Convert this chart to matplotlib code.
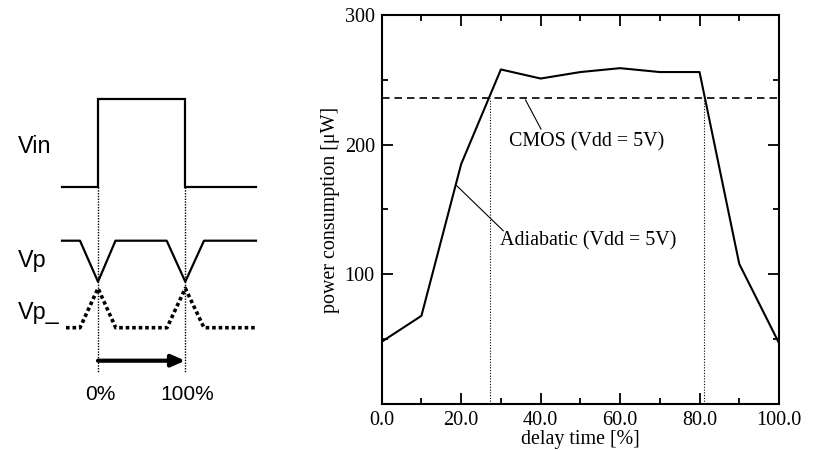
import matplotlib
matplotlib.use("Agg")
import matplotlib.pyplot as plt
from matplotlib.ticker import MultipleLocator, FixedLocator

# ---- data (main chart) ----
delay = [0, 10, 20, 30, 40, 50, 60, 70, 80, 90, 100]
adiabatic = [48, 68, 185, 258, 251, 256, 259, 256, 256, 108, 47]
cmos_level = 236
cross_points = [27.2, 81.0]
x_tick_vals = [0, 20, 40, 60, 80, 100]
x_tick_labels = ["0.0", "20.0", "40.0", "60.0", "80.0", "100.0"]
y_tick_vals = [100, 200, 300]
y_tick_labels = ["100", "200", "300"]

# ---- schematic waveform data (in pixel-like schematic units) ----
vin_x = [62, 98, 98, 185.3, 185.3, 256]
vin_y = [186.7, 186.7, 99, 99, 186.7, 186.7]
vp_x = [62, 80, 98, 115.5, 166.7, 185.3, 204, 256]
vp_y = [240.7, 240.7, 281.7, 240.7, 240.7, 281.7, 240.7, 240.7]
vpn_x = [66, 80, 98, 115.7, 167, 185.3, 204, 256]
vpn_y = [327.7, 327.7, 288.3, 327.7, 327.7, 288.3, 327.7, 327.7]
mark_x = [98, 185.3]
mark_labels = ["0%", "100%"]
wave_labels = ["Vin", "Vp", "Vp_"]
wave_label_y = [153.3, 267.3, 319]

fig = plt.figure(figsize=(8.17, 4.5), dpi=100)

# ---------- left schematic ----------
sch = fig.add_axes([0, 0, 330 / 817, 1])
sch.set_xlim(0, 330)
sch.set_ylim(450, 0)
sch.axis("off")
sans = ["Liberation Sans", "DejaVu Sans"]
sch.plot(vin_x, vin_y, color="black", lw=1.6, solid_joinstyle="miter")
sch.plot(vp_x, vp_y, color="black", lw=1.6)
sch.plot(vpn_x, vpn_y, color="black", lw=2.6, linestyle=(0, (1.0, 0.8)))
for mx in mark_x:
    sch.plot([mx, mx], [186.7, 373], color="black", lw=1.0, linestyle=(0, (1, 1)))
sch.annotate("", xy=(mark_x[1], 360.7), xytext=(mark_x[0], 360.7),
             arrowprops=dict(arrowstyle="-|>,head_length=0.8,head_width=0.35",
                             color="black", lw=3.0, shrinkA=0, shrinkB=0))
for mx, lab in zip(mark_x, mark_labels):
    sch.text(mx + 2, 400, lab, ha="center", va="baseline", fontsize=15, family=sans)
for lab, ly in zip(wave_labels, wave_label_y):
    sch.text(18, ly, lab, ha="left", va="baseline", fontsize=16.8, family=sans)

# ---------- main chart ----------
serif = ["Liberation Serif", "DejaVu Serif"]
ax = fig.add_axes([381.7 / 817, (450 - 404) / 450, (779 - 381.7) / 817, (404 - 15) / 450])
ax.plot(delay, adiabatic, color="black", lw=1.5)
ax.axhline(cmos_level, color="black", lw=1.2, linestyle=(0, (4.5, 3)))
for cx in cross_points:
    ax.plot([cx, cx], [0, cmos_level], color="black", lw=0.8, linestyle=(0, (1, 1.5)))

ax.set_xlim(0, 100)
ax.set_ylim(0, 300)
ax.xaxis.set_major_locator(FixedLocator(x_tick_vals))
ax.set_xticklabels(x_tick_labels)
ax.xaxis.set_minor_locator(MultipleLocator(10))
ax.yaxis.set_major_locator(FixedLocator(y_tick_vals))
ax.set_yticklabels(y_tick_labels)
ax.yaxis.set_minor_locator(MultipleLocator(50))
ax.tick_params(which="both", direction="in", top=True, right=True, width=1.3, colors="black")
ax.tick_params(which="major", length=8, labelsize=14.5, pad=5)
ax.tick_params(which="minor", length=4.5)
for lbl in ax.get_xticklabels() + ax.get_yticklabels():
    lbl.set_family(serif)
for sp in ax.spines.values():
    sp.set_linewidth(1.5)

ax.set_xlabel("delay time [%]", fontsize=14.4, family=serif, labelpad=0)
ax.set_ylabel("power consumption [\u03bcW]", fontsize=14.4, family=serif, labelpad=3)

# leader lines and labels
ax.plot([36.2, 40.1], [234.5, 212], color="black", lw=0.8)
ax.text(51.5, 202, "CMOS (Vdd = 5V)", fontsize=14.4, family=serif, ha="center", va="center")
ax.plot([18.9, 30.6], [168.3, 133.6], color="black", lw=0.8)
ax.text(52.0, 126, "Adiabatic (Vdd = 5V)", fontsize=14.4, family=serif, ha="center", va="center")

fig.savefig("out.png", dpi=100)
